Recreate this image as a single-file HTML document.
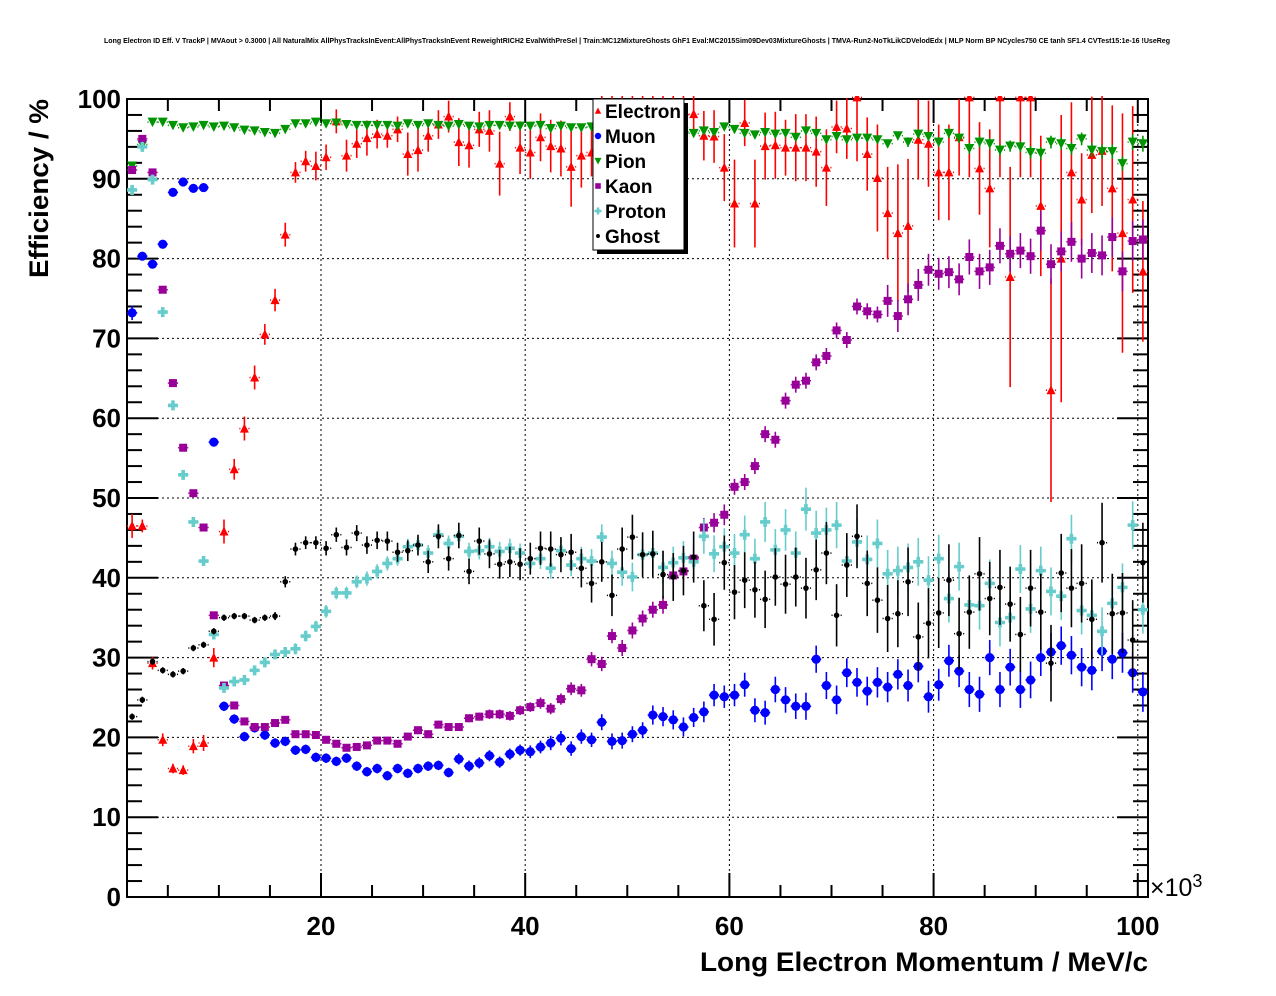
<!DOCTYPE html>
<html><head><meta charset="utf-8"><style>
html,body{margin:0;padding:0;background:#fff;}
svg{display:block;font-family:"Liberation Sans",sans-serif;}
</style></head><body>
<svg id="chart" xmlns="http://www.w3.org/2000/svg" width="1276" height="996" viewBox="0 0 1276 996">
<rect width="1276" height="996" fill="#fff"/>
<text x="104" y="43" font-size="7" font-weight="bold" textLength="1066" lengthAdjust="spacingAndGlyphs">Long Electron ID Eff. V TrackP | MVAout &gt; 0.3000 | All NaturalMix AllPhysTracksInEvent:AllPhysTracksInEvent ReweightRICH2 EvalWithPreSel | Train:MC12MixtureGhosts GhF1 Eval:MC2015Sim09Dev03MixtureGhosts | TMVA-Run2-NoTkLikCDVelodEdx | MLP Norm BP NCycles750 CE tanh SF1.4 CVTest15:1e-16 !UseReg</text>
<g id="grid"></g>
<g id="axes"></g>
<g id="plot"></g>
<text transform="translate(48,278) rotate(-90)" font-size="27" font-weight="bold" textLength="179" lengthAdjust="spacingAndGlyphs">Efficiency / %</text>
<text x="1148" y="971" font-size="27" font-weight="bold" text-anchor="end" textLength="448" lengthAdjust="spacingAndGlyphs">Long Electron Momentum / MeV/c</text>
<text x="1150" y="896" font-size="25">×10<tspan font-size="18" dy="-9">3</tspan></text>
<g id="legend"></g>
</svg>
<script>
const categoriesStart = 1; // bins in units of 1e3 MeV/c, 1k wide
const electronVals = [46.5,46.5,29.3,19.7,16.1,15.9,18.9,19.3,30.0,45.8,
53.6,58.7,65.1,70.5,74.8,83.0,90.8,92.2,91.6,92.7,
97.2,92.9,94.4,95.1,95.6,95.4,96.2,93.1,93.6,95.4,
96.8,97.8,94.6,94.2,96.2,96.0,91.9,97.8,93.9,93.3,
95.2,94.1,93.8,91.5,92.9,93.3,97.0,99.5,97.0,98.0,
99.0,97.0,98.0,99.0,98.0,98.1,95.4,95.3,91.4,86.9,
97.0,86.9,94.1,94.2,93.9,93.9,93.9,93.4,91.4,96.5,
96.3,100.2,93.1,90.1,85.7,83.2,84.1,94.9,94.4,90.8,
90.8,95.2,100.2,91.3,88.8,100.2,77.7,100.2,100.2,86.6,
63.5,80.0,90.8,87.4,93.0,93.5,88.8,83.2,87.4,78.4];
const electronErr = [1.5,0.8,0.8,0.8,0.6,0.6,0.9,1.0,1.2,1.5,
1.3,1.5,1.5,1.3,1.4,1.5,1.3,1.3,1.8,1.6,
1.5,2.0,1.8,2.2,1.8,1.5,1.6,2.7,2.7,2.0,
1.8,2.0,3.0,2.8,2.2,2.6,4.0,1.8,3.3,3.3,
3.0,3.3,3.5,5.0,4.0,3.0,4,4,4,4,
4,4,4,4,4,2.3,3.1,3.3,4.2,5.5,
2.9,5.5,4.2,4.2,3.5,4.2,4.2,4.4,4.8,3.3,
3.8,8,4.6,6.7,5.8,8.6,8.4,5.0,5.4,6.0,
6.0,4.8,10,5.8,7.4,10,13.8,10,10,8.8,
14,18,8.8,5.8,7.3,6.9,10.4,15,11.7,8.8];
const muonVals = [73.2,80.3,79.3,81.8,88.3,89.6,88.8,88.9,57.0,23.9,
22.3,20.1,21.2,20.3,19.3,19.5,18.4,18.5,17.5,17.4,
17.0,17.4,16.4,15.7,16.1,15.2,16.1,15.5,16.1,16.4,
16.5,15.6,17.3,16.4,16.8,17.7,16.9,17.9,18.4,18.2,
18.8,19.3,19.9,18.6,20.1,19.7,21.9,19.5,19.6,20.4,
20.9,22.8,22.6,22.2,21.3,22.5,23.2,25.3,25.1,25.3,
26.6,23.4,23.1,26.0,24.7,23.9,23.9,29.8,26.5,24.7,
28.1,26.9,25.8,26.9,26.3,27.9,26.5,28.9,25.1,26.6,
29.6,28.3,26.0,25.4,30.0,26.0,28.8,26.0,27.2,30.0,
30.7,31.5,30.3,28.8,28.4,30.8,29.8,30.6,28.1,25.7];
const muonErr = [0.9,0.5,0.5,0.5,0.5,0.5,0.5,0.5,0.5,0.6,
0.6,0.6,0.6,0.6,0.6,0.6,0.6,0.6,0.6,0.6,
0.6,0.6,0.6,0.6,0.6,0.6,0.6,0.6,0.6,0.6,
0.6,0.6,0.7,0.7,0.7,0.7,0.7,0.7,0.7,0.8,
0.8,0.9,0.9,0.9,0.9,0.9,1.0,1.0,1.0,1.0,
1.0,1.2,1.2,1.2,1.2,1.2,1.3,1.4,1.4,1.4,
1.5,1.5,1.5,1.6,1.6,1.6,1.7,1.7,1.7,1.8,
1.8,1.8,1.8,1.9,1.9,1.9,2.0,2.0,2.0,2.0,
2.0,2.0,2.2,2.2,2.2,2.2,2.3,2.3,2.3,2.3,
2.4,2.4,2.4,2.4,2.5,2.5,2.5,2.5,2.5,2.5];
const pionVals = [91.6,94.3,97.1,97.1,96.7,96.4,96.5,96.7,96.5,96.6,
96.4,96.1,96.0,95.8,95.7,96.2,96.9,96.9,97.1,96.9,
97.0,96.8,96.7,96.7,96.7,96.7,96.6,96.9,96.7,96.9,
96.7,96.6,96.8,96.6,96.5,96.7,96.7,96.6,96.6,96.6,
96.7,96.3,96.6,96.4,96.4,96.5,96.4,96.3,96.3,96.2,
96.2,96.0,96.0,96.0,95.9,95.7,96.0,95.8,96.5,96.2,
95.7,95.5,95.8,95.6,95.7,95.2,96.0,95.7,94.9,95.3,
94.9,95.1,95.1,94.9,94.4,95.4,94.6,95.6,95.3,94.6,
95.7,95.1,93.8,94.6,94.4,93.6,94.1,94.0,93.3,93.2,
94.6,94.4,93.8,95.0,93.6,93.4,93.4,91.9,94.6,94.4];
const kaonVals = [91.1,95.0,90.8,76.1,64.4,56.3,50.6,46.3,35.3,26.5,
24.0,22.0,21.3,21.3,21.8,22.2,20.4,20.4,20.3,19.7,
19.2,18.7,18.8,19.0,19.6,19.6,19.2,20.1,20.9,20.4,
21.6,21.3,21.3,22.4,22.6,22.9,22.9,22.7,23.4,23.8,
24.3,23.6,24.8,26.1,25.9,29.8,29.2,32.7,31.2,33.4,
34.9,36.0,36.6,40.3,40.8,42.4,46.3,46.9,47.9,51.4,
52.0,54.0,58.0,57.3,62.2,64.2,64.7,67.0,67.8,71.0,
69.8,74.0,73.4,73.0,74.7,72.8,74.9,76.7,78.6,78.1,
78.3,77.4,80.2,78.4,78.9,81.6,80.6,81.0,80.3,83.5,
79.3,80.9,82.1,80.0,80.7,80.4,82.7,78.4,82.2,82.4];
const kaonErr = [0.4,0.4,0.4,0.4,0.4,0.4,0.4,0.4,0.4,0.4,
0.4,0.4,0.4,0.4,0.4,0.4,0.4,0.4,0.4,0.4,
0.4,0.4,0.4,0.4,0.4,0.4,0.4,0.4,0.5,0.5,
0.5,0.5,0.5,0.5,0.5,0.6,0.6,0.6,0.6,0.6,
0.7,0.7,0.7,0.8,0.8,0.9,0.9,0.9,1.0,1.0,
1.0,1.0,1.1,1.1,1.1,1.2,1.2,1.2,1.3,1.0,
1.0,1.0,1.0,1.0,1.0,1.0,1.0,1.0,1.0,1.0,
1.0,1.0,1.0,1.0,2.0,2.0,2.0,2.0,2.0,2.0,
2.0,2.0,2.2,2.2,2.2,2.2,2.2,2.2,2.2,2.5,
2.5,2.5,2.5,2.5,2.5,2.5,2.5,2.5,2.5,2.5];
const protonVals = [88.6,94.0,89.9,73.3,61.6,52.9,47.0,42.1,32.9,26.2,
27.0,27.2,28.4,29.4,30.4,30.7,31.1,32.7,33.9,35.8,
38.1,38.1,39.5,39.9,40.8,41.8,42.4,43.9,44.1,43.1,
45.4,44.3,45.2,43.3,43.4,43.9,43.3,43.7,43.1,41.8,
42.4,41.2,43.4,41.6,42.4,42.1,45.1,41.8,40.7,40.1,
42.9,43.1,41.3,41.9,42.5,42.0,45.2,43.0,43.9,43.1,
45.4,42.4,47.0,43.5,46.0,43.1,48.6,45.6,46.0,46.6,
42.1,44.5,42.3,44.3,40.5,40.9,41.3,42.0,39.7,42.4,
37.4,41.4,36.6,36.5,39.3,34.4,35.0,41.1,36.1,40.9,
38.3,37.7,44.9,35.9,35.3,33.3,36.8,38.8,46.6,36.0];
const protonErr = [0.5,0.5,0.5,0.5,0.5,0.5,0.5,0.5,0.5,0.5,
0.5,0.5,0.5,0.6,0.6,0.6,0.7,0.7,0.7,0.8,
0.8,0.8,0.8,0.9,0.9,0.9,0.9,1.0,1.0,1.0,
1.0,1.0,1.1,1.1,1.1,1.1,1.2,1.2,1.2,1.3,
1.3,1.3,1.4,1.4,1.5,1.5,1.6,1.6,1.7,1.8,
1.8,1.9,2.0,2.0,2.1,2.2,2.2,2.3,2.3,2.4,
2.4,2.5,2.5,2.6,2.6,2.7,2.7,2.8,2.8,2.9,
2.9,3.0,3.0,3.0,3.0,3.0,3.0,3.0,3.0,3.0,
3.0,3.0,3.0,3.0,3.0,3.0,3.0,3.0,3.0,3.0,
3.0,3.0,3.0,3.0,3.0,3.0,3.0,3.0,3.0,3.0];
const ghostVals = [22.6,24.7,29.5,28.4,27.9,28.3,31.2,31.6,33.3,35.0,
35.2,35.2,34.7,35.0,35.2,39.5,43.6,44.4,44.4,43.7,
45.4,43.8,45.6,44.1,44.7,44.6,43.2,43.4,44.1,42.0,
45.2,42.4,45.3,40.8,44.6,43.0,41.7,42.0,41.7,42.4,
43.7,43.6,42.9,43.2,41.2,39.3,42.0,37.8,43.6,45.1,
42.9,43.0,40.4,40.1,40.9,42.6,36.5,34.8,41.9,38.2,
39.7,38.5,37.3,40.1,39.2,40.1,38.7,41.0,43.1,35.3,
41.6,45.2,39.3,37.2,34.9,35.5,39.5,32.6,34.3,35.6,
39.7,33.0,35.7,40.5,37.4,38.8,36.7,32.9,38.7,35.7,
29.3,40.6,38.7,39.3,34.8,44.4,35.5,35.6,32.2,41.9];
const ghostErr = [0.4,0.4,0.4,0.4,0.4,0.4,0.4,0.4,0.4,0.4,
0.4,0.4,0.4,0.4,0.5,0.7,0.8,0.8,0.8,0.9,
0.9,1.0,1.0,1.1,1.1,1.2,1.2,1.3,1.3,1.4,
1.5,1.5,1.6,1.6,1.7,1.8,1.8,1.9,2.0,2.0,
2.1,2.2,2.2,2.3,2.4,2.4,2.5,2.6,2.7,2.8,
2.8,2.9,3.0,3.0,3.1,3.2,3.2,3.3,3.4,3.4,
3.5,3.5,3.6,3.6,3.7,3.7,3.8,3.8,3.9,3.9,
4.0,4.0,4.1,4.1,4.2,4.2,4.3,4.3,4.4,4.4,
4.5,4.5,4.6,4.6,4.6,4.7,4.7,4.7,4.8,4.8,
4.8,4.9,4.9,4.9,5.0,5.0,5.0,5.0,5.0,5.0];
const pionErr = [0.3,0.3,0.3,0.3,0.3,0.3,0.3,0.3,0.3,0.3,
0.3,0.3,0.3,0.3,0.3,0.3,0.3,0.3,0.3,0.3,
0.3,0.3,0.3,0.3,0.3,0.3,0.3,0.3,0.3,0.3,
0.3,0.3,0.3,0.3,0.3,0.3,0.3,0.3,0.3,0.3,
0.3,0.3,0.3,0.3,0.3,0.3,0.3,0.3,0.3,0.3,
0.4,0.4,0.4,0.4,0.4,0.4,0.4,0.4,0.4,0.4,
0.4,0.4,0.4,0.4,0.4,0.4,0.4,0.4,0.5,0.5,
0.5,0.5,0.5,0.5,0.5,0.5,0.6,0.6,0.6,0.6,
0.6,0.6,0.7,0.7,0.7,0.7,0.7,0.7,0.8,0.8,
0.8,0.8,0.8,0.8,0.9,0.9,0.9,0.9,1.0,1.0];
const yTicks = [0,10,20,30,40,50,60,70,80,90,100];
const xTickLabels = [20,40,60,80,100];
const legendNames = ["Electron","Muon","Pion","Kaon","Proton","Ghost"];

const NS = "http://www.w3.org/2000/svg";
const X0 = 127, X1 = 1148, Y0 = 897, Y1 = 99;
const XMIN = 1, XMAX = 101, YMIN = 0, YMAX = 100;
const xs = v => X0 + (v - XMIN) / (XMAX - XMIN) * (X1 - X0);
const ys = v => Y0 - (v - YMIN) / (YMAX - YMIN) * (Y0 - Y1);
function mk(tag, attrs, parent) { const e = document.createElementNS(NS, tag); for (const k in attrs) e.setAttribute(k, attrs[k]); parent.appendChild(e); return e; }

const svg = document.getElementById('chart');
const defs = mk('defs', {}, svg);
const cp = mk('clipPath', {id: 'frameclip'}, defs);
mk('rect', {x: X0, y: Y1 - 3, width: X1 - X0, height: Y0 - Y1 + 3}, cp);

const grid = document.getElementById('grid');
yTicks.forEach(t => { if (t > 0 && t < 100) { const l = mk('line', {x1: X0, x2: X1, y1: ys(t), y2: ys(t), stroke: '#000', 'stroke-width': 1, 'stroke-dasharray': '2,3'}, grid);

 } });
xTickLabels.forEach(t => { const l = mk('line', {x1: xs(t), x2: xs(t), y1: Y1, y2: Y0, stroke: '#000', 'stroke-width': 1, 'stroke-dasharray': '2,3'}, grid);

 });

const axes = document.getElementById('axes');
const fr = mk('rect', {x: X0, y: Y1, width: X1 - X0, height: Y0 - Y1, fill: 'none', stroke: '#000', 'stroke-width': 2}, axes);


for (let v = 0; v <= 100; v += 2) {
  const major = v % 10 === 0; const len = major ? 31 : 15; const y = ys(v);
  mk('line', {x1: X0, x2: X0 + len, y1: y, y2: y, stroke: '#000', 'stroke-width': 2}, axes);
  mk('line', {x1: X1, x2: X1 - len, y1: y, y2: y, stroke: '#000', 'stroke-width': 2}, axes);
}
yTicks.forEach(t => { const tx = mk('text', {x: 121, y: ys(t) + 9, 'font-size': 26, 'font-weight': 'bold', 'text-anchor': 'end'}, axes); tx.textContent = t;

 });
for (let v = 5; v <= 100; v += 5) {
  const major = v % 20 === 0; const len = major ? 24 : 12; const x = xs(v);
  mk('line', {x1: x, x2: x, y1: Y0, y2: Y0 - len, stroke: '#000', 'stroke-width': 2}, axes);
  mk('line', {x1: x, x2: x, y1: Y1, y2: Y1 + len, stroke: '#000', 'stroke-width': 2}, axes);
}
xTickLabels.forEach(t => { const tx = mk('text', {x: xs(t), y: 935, 'font-size': 26, 'font-weight': 'bold', 'text-anchor': 'middle'}, axes); tx.textContent = t;

 });

function marker(kind, cx, cy, color, parent) {
  let e;
  if (kind === 'tri') e = mk('polygon', {points: `${cx},${cy-5} ${cx-4.5},${cy+4} ${cx+4.5},${cy+4}`, fill: color}, parent);
  else if (kind === 'tridown') e = mk('polygon', {points: `${cx-5},${cy-4.5} ${cx+5},${cy-4.5} ${cx},${cy+5}`, fill: color}, parent);
  else if (kind === 'circ') e = mk('circle', {cx, cy, r: 4.6, fill: color}, parent);
  else if (kind === 'sq') e = mk('rect', {x: cx - 4, y: cy - 4, width: 8, height: 8, fill: color}, parent);
  else if (kind === 'plus') e = mk('path', {d: `M${cx-5},${cy-1.8}h3.2v-3.2h3.6v3.2h3.2v3.6h-3.2v3.2h-3.6v-3.2h-3.2z`, fill: color}, parent);
  else e = mk('circle', {cx, cy, r: 2.8, fill: color}, parent);
  return e;
}
const series = [
  {name: 'electron', vals: electronVals, err: electronErr, color: '#ff0000', kind: 'tri'},
  {name: 'muon', vals: muonVals, err: muonErr, color: '#0000ff', kind: 'circ'},
  {name: 'pion', vals: pionVals, err: pionErr, color: '#009400', kind: 'tridown'},
  {name: 'kaon', vals: kaonVals, err: kaonErr, color: '#990099', kind: 'sq'},
  {name: 'proton', vals: protonVals, err: protonErr, color: '#66cccc', kind: 'plus'},
  {name: 'ghost', vals: ghostVals, err: ghostErr, color: '#000000', kind: 'dot'}
];
const plot = document.getElementById('plot');
plot.setAttribute('clip-path', 'url(#frameclip)');
series.forEach(s => {
  const g = mk('g', {}, plot);
  
  
  s.vals.forEach((v, i) => {
    const xc = xs(categoriesStart + i + 0.5), xl = xs(categoriesStart + i), xr = xs(categoriesStart + i + 1);
    const yc = ys(v);
    const pg = mk('g', {}, g);
    
    
    const gap = 4;
    mk('line', {x1: xl, x2: xc - gap, y1: yc, y2: yc, stroke: s.color, 'stroke-width': 1.5}, pg);
    mk('line', {x1: xc + gap, x2: xr, y1: yc, y2: yc, stroke: s.color, 'stroke-width': 1.5}, pg);
    mk('line', {x1: xc, x2: xc, y1: ys(v + s.err[i]), y2: ys(Math.max(0, v - s.err[i])), stroke: s.color, 'stroke-width': 1.6}, pg);
    marker(s.kind, xc, yc, s.color, pg);
  });
});

const lg = document.getElementById('legend');
mk('rect', {x: 597, y: 103, width: 91, height: 151, fill: '#000'}, lg);
mk('rect', {x: 593, y: 99, width: 91, height: 151, fill: '#fff', stroke: '#000', 'stroke-width': 1}, lg);
legendNames.forEach((n, k) => {
  const y = 111 + 25 * k;
  const ent = mk('g', {}, lg);
  
  
  const s = series[k];
  const m = marker(s.kind, 598, y, s.color, ent);
  m.setAttribute('transform', `translate(598,${y}) scale(0.7) translate(-598,${-y})`);
  const t = mk('text', {x: 605, y: y + 7, 'font-size': 19, 'font-weight': 'bold'}, ent);
  t.textContent = n;
});
</script>
</body></html>
